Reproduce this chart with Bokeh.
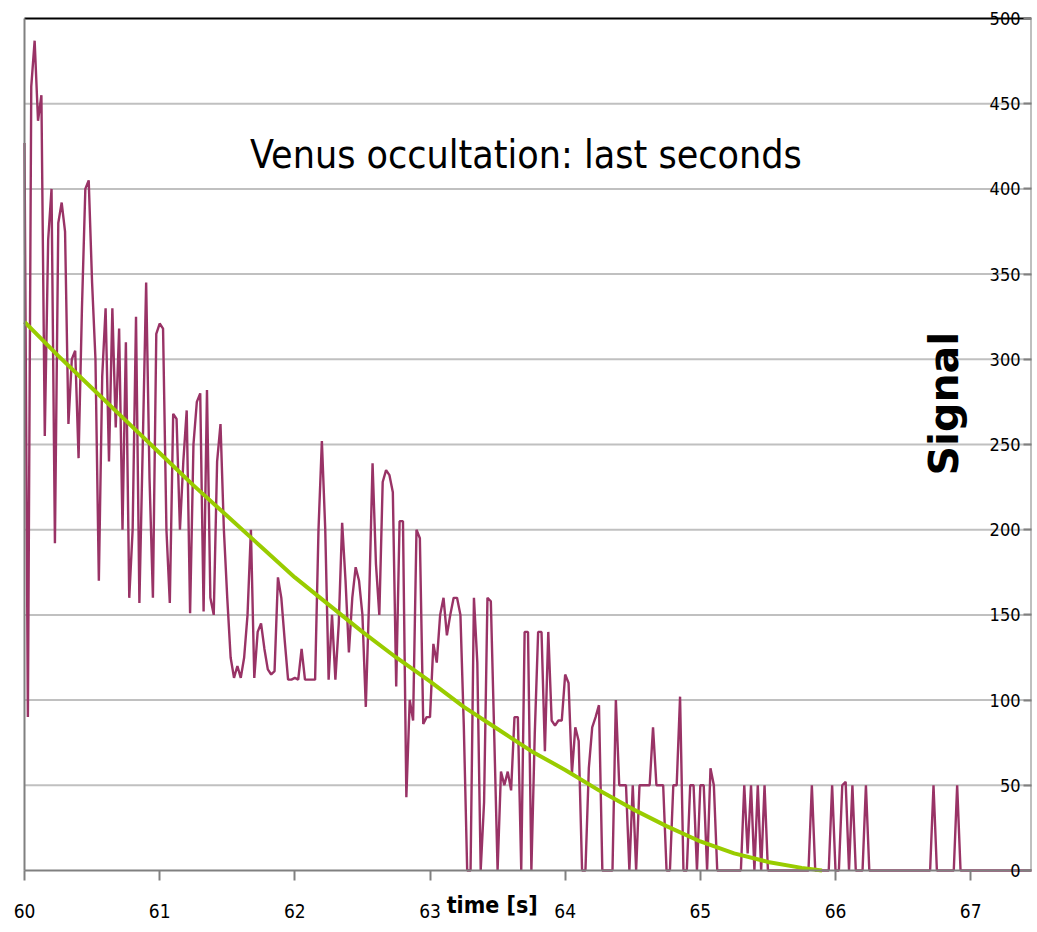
import math
from bokeh.plotting import figure
from bokeh.models import Range1d, FixedTicker, Label, LinearAxis
from bokeh.embed import file_html
from bokeh.resources import INLINE

# ---- data ----
t_start = 60.0
t_step = 0.025  # sample spacing of the recording (s)

signal = [
    # 60.000 - 60.475
    427, 90, 460, 487, 440, 455, 255, 370, 400, 192,
    380, 392, 375, 262, 300, 305, 242, 330, 400, 405,
    # 60.500 - 60.975
    345, 300, 170, 290, 330, 240, 330, 260, 318, 200,
    310, 160, 200, 325, 157, 250, 345, 230, 160, 315,
    # 61.000 - 61.475
    321, 318, 200, 157, 268, 265, 200, 240, 270, 151,
    250, 275, 280, 152, 282, 160, 150, 240, 262, 200,
    # 61.500 - 61.975
    160, 125, 113, 120, 113, 125, 150, 200, 113, 140,
    145, 130, 118, 115, 117, 172, 160, 135, 112, 112,
    # 62.000 - 62.475
    113, 112, 130, 112, 112, 112, 112, 200, 252, 200,
    112, 150, 112, 145, 204, 170, 128, 160, 178, 170,
    # 62.500 - 62.975
    150, 96, 160, 239, 180, 150, 228, 235, 232, 222,
    108, 205, 205, 43, 100, 88, 200, 195, 86, 90,
    # 63.000 - 63.475
    90, 133, 122, 150, 160, 138, 150, 160, 160, 150,
    85, 0, 0, 160, 122, 0, 40, 160, 158, 80,
    # 63.500 - 63.975
    0, 58, 50, 58, 47, 90, 90, 0, 140, 140,
    0, 80, 140, 140, 70, 140, 88, 85, 88, 88,
    # 64.000 - 64.475
    115, 110, 57, 84, 76, 0, 0, 60, 84, 90,
    97, 0, 0, 0, 0, 100, 50, 50, 50, 0,
    # 64.500 - 64.975
    50, 0, 50, 50, 50, 50, 84, 50, 50, 50,
    0, 0, 50, 50, 102, 0, 0, 50, 50, 0,
    # 65.000 - 65.475
    50, 50, 0, 60, 50, 0, 0, 0, 0, 0,
    0, 0, 0, 50, 10, 50, 0, 50, 0, 50,
    # 65.500 - 65.975
    0, 0, 0, 0, 0, 0, 0, 0, 0, 0,
    0, 0, 0, 50, 0, 0, 0, 0, 0, 50,
    # 66.000 - 66.475
    0, 0, 50, 52, 0, 50, 0, 0, 0, 50,
    0, 0, 0, 0, 0, 0, 0, 0, 0, 0,
    # 66.500 - 66.975
    0, 0, 0, 0, 0, 0, 0, 0, 0, 50,
    0, 0, 0, 0, 0, 0, 50, 0, 0, 0,
    # 67.000 - 67.475
    0, 0, 0, 0, 0, 0, 0, 0, 0, 0,
    0, 0, 0, 0, 0, 0, 0, 0, 0, 0,
]
time_s = [round(t_start + t_step * i, 3) for i in range(len(signal))]

fit_time = [60.0, 60.25, 60.5, 60.75, 61.0, 61.25, 61.5, 61.75, 62.0, 62.25,
            62.5, 62.75, 63.0, 63.25, 63.5, 63.75, 64.0, 64.25, 64.5, 64.75,
            65.0, 65.25, 65.5, 65.75, 65.9]
fit_signal = [322, 302, 283, 264, 245, 226, 208, 190, 172, 156,
              140, 125, 111, 96, 83, 70, 59, 47, 36, 26,
              17, 10, 5, 1.5, 0]

x_ticks = [60, 61, 62, 63, 64, 65, 66, 67]
y_ticks = [0, 50, 100, 150, 200, 250, 300, 350, 400, 450, 500]

title_text = "Venus occultation: last seconds"
x_label = "time [s]"
y_label = "Signal"

X_MIN, X_MAX = 60.0, 67.45
Y_MIN, Y_MAX = 0, 500
# view extends a little beyond the chart box so edge tick labels are not cut
X_VIEW_MIN = 59.889
Y_VIEW_MIN, Y_VIEW_MAX = -32.9, 505.9

NARROW = "DejaVu Sans Condensed"

# ---- figure ----
p = figure(width=1035, height=928,
           x_range=Range1d(X_VIEW_MIN, X_MAX), y_range=Range1d(Y_VIEW_MIN, Y_VIEW_MAX),
           output_backend="svg", toolbar_location=None,
           min_border_left=9, min_border_right=4,
           min_border_top=8, min_border_bottom=2)
p.outline_line_color = None
p.background_fill_color = "white"
p.border_fill_color = "white"
p.xgrid.visible = False
p.ygrid.visible = False

# horizontal grid lines, spanning the chart box only
grid_y = y_ticks[1:-1]
p.segment(x0=[X_MIN] * len(grid_y), y0=grid_y,
          x1=[X_MAX] * len(grid_y), y1=grid_y,
          line_color="#c0c0c0", line_width=2)

# x axis, drawn at y = 0 inside the frame
xa = p.xaxis[0]
xa.fixed_location = Y_MIN
xa.bounds = (X_MIN, X_MAX)
xa.ticker = FixedTicker(ticks=x_ticks)
xa.axis_line_color = "#808080"
xa.axis_line_width = 2
xa.major_tick_line_color = "#808080"
xa.major_tick_line_width = 2
xa.major_tick_out = 10
xa.major_tick_in = 0
xa.minor_tick_line_color = None
xa.major_label_text_font = NARROW
xa.major_label_text_font_size = "19px"
xa.major_label_text_color = "black"
xa.major_label_standoff = 24

# y axis drawn at the right edge of the chart box, labels inside
ya = p.yaxis[0]
ya.fixed_location = X_MAX
ya.bounds = (Y_MIN, Y_MAX)
ya.ticker = FixedTicker(ticks=y_ticks)
ya.axis_line_color = "#808080"
ya.axis_line_width = 2
ya.major_tick_line_color = "#808080"
ya.major_tick_line_width = 2
ya.major_tick_out = 8
ya.major_tick_in = 4
ya.minor_tick_line_color = None
ya.major_label_text_font = NARROW
ya.major_label_text_font_size = "18px"
ya.major_label_text_color = "black"
ya.major_label_standoff = 3

# plain left edge line
left_edge = LinearAxis(fixed_location=X_MIN, bounds=(Y_MIN, Y_MAX),
                       ticker=FixedTicker(ticks=[]),
                       axis_line_color="#808080", axis_line_width=2,
                       major_tick_line_color=None, minor_tick_line_color=None,
                       major_label_text_font_size="0px")
p.add_layout(left_edge, "left")

# black top edge line
top_edge = LinearAxis(fixed_location=Y_MAX, bounds=(X_MIN, X_MAX),
                      ticker=FixedTicker(ticks=[]),
                      axis_line_color="black", axis_line_width=2,
                      major_tick_line_color=None, minor_tick_line_color=None,
                      major_label_text_font_size="0px")
p.add_layout(top_edge, "above")

# data
p.line(time_s, signal, line_color="#993366", line_width=2.4)
p.line(fit_time, fit_signal, line_color="#99CC00", line_width=4)

# texts
p.add_layout(Label(x=63.71, y=420, text=title_text, text_align="center",
                   text_baseline="middle", text_font=NARROW,
                   text_font_size="39px", text_color="black"))
p.add_layout(Label(x=66.80, y=274, text=y_label, angle=math.pi / 2,
                   text_align="center", text_baseline="middle",
                   text_font="DejaVu Sans", text_font_style="bold",
                   text_font_size="41px", text_color="black"))
p.add_layout(Label(x=63.46, y=-20.5, text=x_label, text_align="center",
                   text_baseline="middle", text_font=NARROW,
                   text_font_style="bold", text_font_size="23px",
                   text_color="black"))

open("out.html", "w").write(file_html(p, INLINE))
